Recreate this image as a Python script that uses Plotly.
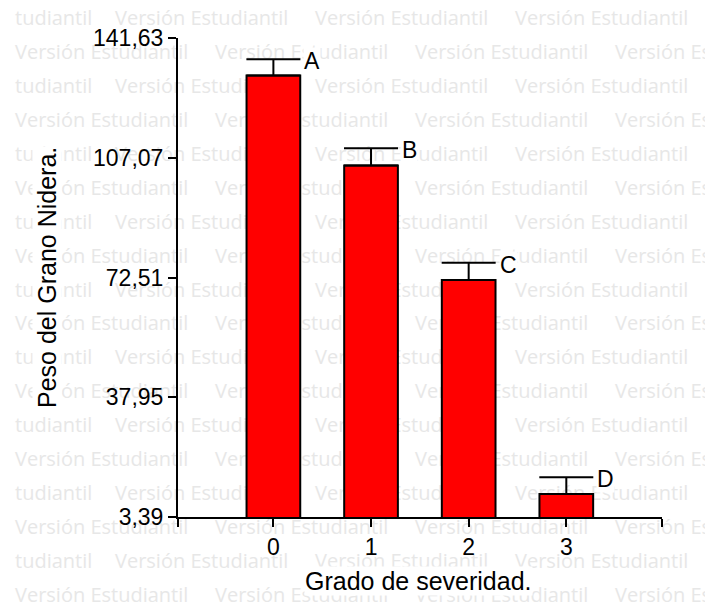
import plotly.graph_objects as go

# ---- data -------------------------------------------------------------
categories = [0, 1, 2, 3]
category_labels = ["0", "1", "2", "3"]
means = [130.8, 104.8, 71.8, 10.0]
errors = [4.7, 5.0, 5.0, 4.85]
letters = ["A", "B", "C", "D"]

y_ticks = [3.39, 37.95, 72.51, 107.07, 141.63]
y_tick_labels = ["3,39", "37,95", "72,51", "107,07", "141,63"]

x_title = "Grado de severidad."
y_title = "Peso del Grano Nidera."
watermark = "Versión Estudiantil"
watermark_tail = "tudiantil"

# ---- page geometry (pixels) --------------------------------------------
W, H = 705, 608
plot_left, plot_right = 178, 662
plot_top, plot_bottom = 38, 517
x_min, x_max = -0.977, 3.98

FONT = "Arial, Liberation Sans, sans-serif"
WM_FONT = "Open Sans, DejaVu Sans, sans-serif"
WM_COLOR = "#e7e7e7"

fig = go.Figure()

# ---- background watermark: a text layer on a full-page subplot ----------
wm_x, wm_y, wm_t = [], [], []
row_gap = 33.94
for k in range(18):
    y = 20 + k * row_gap
    if k % 2 == 0:
        items = [(watermark_tail, 15)] + [(watermark, 115 + 200 * j) for j in range(3)]
    else:
        items = [(watermark, 15 + 200 * j) for j in range(4)]
    for txt, x in items:
        wm_x.append(x)
        wm_y.append(y)
        wm_t.append(txt)

fig.add_trace(go.Scatter(
    x=wm_x, y=wm_y, text=wm_t, mode="text",
    textposition="middle right",
    textfont=dict(family=WM_FONT, size=20, color=WM_COLOR),
    hoverinfo="skip", showlegend=False,
    xaxis="x", yaxis="y",
))

# ---- bars with upper error bars ----------------------------------------
fig.add_trace(go.Bar(
    x=categories, y=means, width=0.55,
    marker=dict(color="#ff0000", line=dict(color="black", width=2)),
    error_y=dict(type="data", symmetric=False, array=errors,
                 arrayminus=[0] * len(errors),
                 color="black", thickness=2, width=27),
    hoverinfo="skip", showlegend=False,
    xaxis="x2", yaxis="y2",
))

# ---- significance letters next to each error-bar cap --------------------
annotations = []
for xi, m, e, lab in zip(categories, means, errors, letters):
    annotations.append(dict(
        x=xi, y=m + e, xref="x2", yref="y2", text=lab,
        xanchor="left", yanchor="middle", xshift=30, yshift=-2,
        showarrow=False, bgcolor="white", borderpad=0,
        font=dict(family=FONT, size=23, color="black"),
    ))

# ---- axis titles ---------------------------------------------------------
annotations.append(dict(
    x=418 / W, y=(H - 581) / H, xref="paper", yref="paper",
    text=x_title, showarrow=False, xanchor="center", yanchor="middle",
    bgcolor="white", borderpad=0,
    font=dict(family=FONT, size=25, color="black"),
))
annotations.append(dict(
    x=47 / W, y=(H - 278) / H, xref="paper", yref="paper",
    text=y_title, showarrow=False, xanchor="center", yanchor="middle",
    textangle=-90, bgcolor="white", borderpad=0,
    font=dict(family=FONT, size=25, color="black"),
))

fig.update_layout(
    width=W, height=H, autosize=False,
    margin=dict(l=0, r=0, t=0, b=0, pad=0, autoexpand=False),
    paper_bgcolor="white",
    plot_bgcolor="rgba(0,0,0,0)",
    showlegend=False,
    annotations=annotations,
    xaxis=dict(domain=[0, 1], range=[0, W], visible=False, fixedrange=True,
               automargin=False),
    yaxis=dict(domain=[0, 1], range=[H, 0], visible=False, fixedrange=True,
               automargin=False),
    xaxis2=dict(
        domain=[plot_left / W, plot_right / W], anchor="y2",
        range=[x_min, x_max],
        tickvals=[x_min] + categories + [x_max],
        ticktext=[""] + category_labels + [""],
        ticks="outside", ticklen=8, tickwidth=2, tickcolor="black",
        showline=True, linewidth=2, linecolor="black",
        showgrid=False, zeroline=False, automargin=False,
        tickfont=dict(family=FONT, size=23, color="black"),
    ),
    yaxis2=dict(
        domain=[(H - plot_bottom) / H, (H - plot_top) / H], anchor="x2",
        range=[y_ticks[0], y_ticks[-1]],
        tickvals=y_ticks, ticktext=y_tick_labels,
        ticks="outside", ticklen=8, tickwidth=2, tickcolor="black",
        showline=True, linewidth=2, linecolor="black",
        showgrid=False, zeroline=False, automargin=False,
        tickfont=dict(family=FONT, size=23, color="black"),
    ),
)

fig.write_html("out.html")
